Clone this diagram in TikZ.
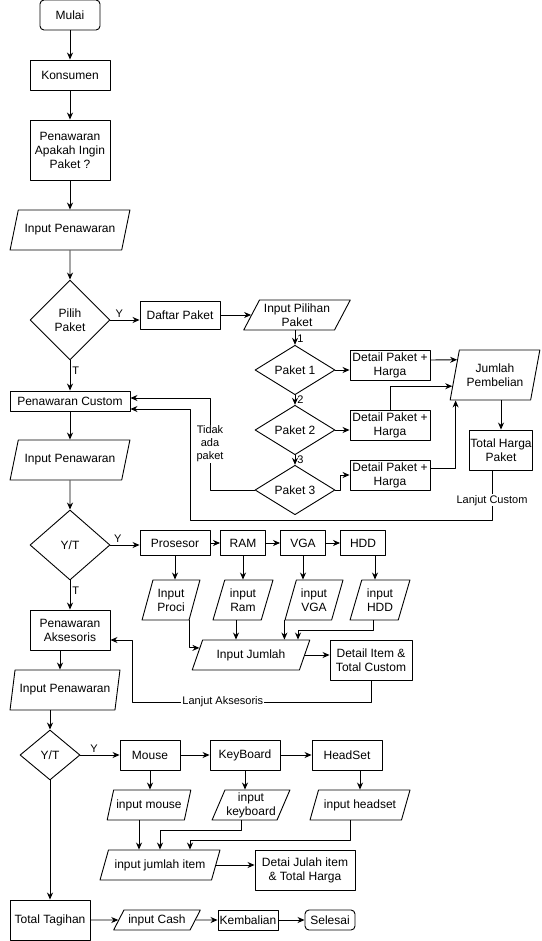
\documentclass[tikz,border=0pt]{standalone}
\usepackage{fontspec}
\setmainfont{Liberation Sans}
\usetikzlibrary{arrows.meta,shapes.geometric,calc}

\begin{document}
\begin{tikzpicture}[
  x=1pt,
  y=-1pt,
  line join=round,
  line width=0.9pt,
  font=\fontsize{12}{14}\selectfont,
  box/.style={draw,rectangle,align=center,inner sep=1pt},
  term/.style={box,rounded corners=4pt},
  io/.style={draw,trapezium,trapezium left angle=#1,trapezium right angle={180-#1},
    trapezium stretches=true,align=center,inner sep=1pt},
  io/.default=60,
  dec/.style={draw,diamond,align=center,inner sep=0pt},
  flow/.style={draw,-{Stealth[length=7pt,width=6pt]}},
  lbl/.style={font=\fontsize{11}{13}\selectfont,fill=white,inner sep=1pt,align=center},
  tag/.style={font=\fontsize{11}{13}\selectfont,inner sep=2pt}
]
  % Frame of the original page.
  \useasboundingbox (0,0) rectangle (541,941);

  % Main column: start, package offer.
  \node[term,minimum width=60pt,minimum height=30pt] (mulai) at (70,15) {Mulai};
  \node[box,minimum width=80pt,minimum height=30pt] (konsumen) at (70,75) {Konsumen};
  \node[box,minimum width=80pt,minimum height=60pt] (tawar) at (70,150) {Penawaran\\Apakah Ingin\\Paket ?};
  \node[io,minimum width=120pt,minimum height=40pt] (inA) at (70,230) {Input Penawaran};
  \node[dec,minimum width=80pt,minimum height=80pt] (pilih) at (70,320) {Pilih\\Paket};

  % Package branch.
  \node[box,minimum width=80pt,minimum height=28pt] (daftar) at (180,315) {Daftar Paket};
  \node[io,minimum width=107pt,minimum height=30pt] (inPilih) at (297,315) {Input Pilihan\\Paket};
  \node[dec,minimum width=80pt,minimum height=40pt] (pk1) at (295,370) {Paket 1};
  \node[dec,minimum width=80pt,minimum height=40pt] (pk2) at (295,430) {Paket 2};
  \node[dec,minimum width=80pt,minimum height=40pt] (pk3) at (295,490) {Paket 3};
  \node[box,minimum width=80pt,minimum height=30pt] (det1) at (390,365) {Detail Paket +\\Harga};
  \node[box,minimum width=80pt,minimum height=30pt] (det2) at (390,425) {Detail Paket +\\Harga};
  \node[box,minimum width=80pt,minimum height=30pt] (det3) at (390,475) {Detail Paket +\\Harga};
  \node[io=73,minimum width=90pt,minimum height=50pt] (jumlah) at (495,375) {Jumlah\\Pembelian};
  \node[box,minimum width=62pt,minimum height=40pt] (totpk) at (501,450) {Total Harga\\Paket};

  % Custom branch.
  \node[box,minimum width=120pt,minimum height=20pt] (custom) at (70,401) {Penawaran Custom};
  \node[io,minimum width=120pt,minimum height=40pt] (inB) at (70,460) {Input Penawaran};
  \node[dec,minimum width=80pt,minimum height=70pt] (yt1) at (70,545) {Y/T};
  \node[box,minimum width=70pt,minimum height=25pt] (pros) at (175,543) {Prosesor};
  \node[box,minimum width=45pt,minimum height=25pt] (ram) at (243,543) {RAM};
  \node[box,minimum width=45pt,minimum height=25pt] (vga) at (303,543) {VGA};
  \node[box,minimum width=45pt,minimum height=25pt] (hdd) at (363,543) {HDD};
  \node[io=70,minimum width=58pt,minimum height=40pt] (inPros) at (171,600) {Input\\Proci};
  \node[io=70,minimum width=60pt,minimum height=40pt] (inRam) at (243,600) {input\\Ram};
  \node[io=70,minimum width=58pt,minimum height=40pt] (inVga) at (314,600) {input\\VGA};
  \node[io=70,minimum width=60pt,minimum height=40pt] (inHdd) at (380,600) {input\\HDD};
  \node[io,minimum width=118pt,minimum height=30pt] (inJml) at (251,655) {Input Jumlah};
  \node[box,minimum width=82pt,minimum height=40pt] (detC) at (371,660) {Detail Item \&\\Total Custom};

  % Accessories branch.
  \node[box,minimum width=80pt,minimum height=40pt] (aks) at (70,630) {Penawaran\\Aksesoris};
  \node[io=70,minimum width=110pt,minimum height=40pt] (inC) at (65,690) {Input Penawaran};
  \node[dec,minimum width=60pt,minimum height=50pt] (yt2) at (50,755) {Y/T};
  \node[box,minimum width=60pt,minimum height=30pt] (mouse) at (150,755) {Mouse};
  \node[box,minimum width=70pt,minimum height=30pt] (keyb) at (245,755) {KeyBoard};
  \node[box,minimum width=70pt,minimum height=30pt] (head) at (347,755) {HeadSet};
  \node[io=65,minimum width=84pt,minimum height=30pt] (inMouse) at (149,805) {input mouse};
  \node[io=65,minimum width=78pt,minimum height=30pt] (inKey) at (251,805) {input\\keyboard};
  \node[io,minimum width=100pt,minimum height=30pt] (inHead) at (360,805) {input headset};
  \node[io,minimum width=120pt,minimum height=30pt] (inItem) at (160,865) {input jumlah item};
  \node[box,minimum width=100pt,minimum height=40pt] (detJ) at (305,870) {Detai Julah item\\\& Total Harga};

  % Payment row.
  \node[box,minimum width=80pt,minimum height=40pt] (tagih) at (50,920) {Total Tagihan};
  \node[io=55,minimum width=87pt,minimum height=20pt] (cash) at (157,920) {input Cash};
  \node[box,minimum width=60pt,minimum height=20pt] (kembali) at (248,920) {Kembalian};
  \node[term,minimum width=50pt,minimum height=20pt] (selesai) at (330,920) {Selesai};

  % Turning points of the long return lines.
  \coordinate (tdTurn) at (210,490);
  \coordinate (lcTurn) at (190,520);
  \coordinate (hddTurn) at (298,630);
  \coordinate (laTurn) at (132,702);
  \coordinate (keyTurn) at (160,830);
  \coordinate (headTurn) at (190,840);

  % Main column arrows.
  \draw[flow] (mulai) -- (konsumen);
  \draw[flow] (konsumen) -- (tawar);
  \draw[flow] (tawar) -- (inA);
  \draw[flow] (inA) -- (pilih);
  \draw[flow] (pilih.east) -- node[tag,above,pos=0.3] {Y} (pilih.east -| daftar.west);
  \draw[flow] (pilih.south) -- node[tag,right,pos=0.35] {T} (custom.north);
  \draw[flow] (custom) -- (inB);
  \draw[flow] (inB) -- (yt1);

  % Package choices.
  \draw[flow] (daftar.east) -- (daftar.east -| inPilih.west);
  \draw[flow] (inPilih.south -| pk1.north) -- node[tag,right,pos=0.55] {1} (pk1.north);
  \draw[flow] (pk1.south) -- node[tag,right,pos=0.5] {2} (pk2.north);
  \draw[flow] (pk2.south) -- node[tag,right,pos=0.5] {3} (pk3.north);
  \draw[flow] (pk1.east) -- (det1.west |- pk1.east);
  \draw[flow] (pk2.east) -- (det2.west |- pk2.east);
  \draw[flow] (pk3.east) -- ++(5,0) |- (det3.west);
  \draw[flow] ([yshift=5pt]det1.east) -- ($(jumlah.top left corner)!0.2!(jumlah.bottom left corner)$);
  \draw[flow] (det2.north) |- ($(jumlah.top left corner)!0.72!(jumlah.bottom left corner)$);
  \draw[flow] ([yshift=7pt]det3.east) -| ([xshift=6pt]jumlah.bottom left corner);
  \draw[flow] (totpk.north |- jumlah.south) -- (totpk.north);
  \draw[flow] ([xshift=-9pt]totpk.south) |- node[lbl,pos=0.3] {Lanjut Custom} (lcTurn)
    |- ([yshift=-8pt]custom.east);
  \draw[flow] (pk3.west) -- (tdTurn) |- node[lbl,pos=0.25] {Tidak\\ada\\paket} ([yshift=3pt]custom.east);

  % Custom parts.
  \draw[flow] (yt1.east) -- node[tag,above,pos=0.25] {Y} (yt1.east -| pros.west);
  \draw[flow] (yt1.south) -- node[tag,right,pos=0.35] {T} (aks.north);
  \draw[flow] (pros) -- (ram);
  \draw[flow] (ram) -- (vga);
  \draw[flow] (vga) -- (hdd);
  \draw[flow] (pros.south) -- (pros.south |- inPros.north);
  \draw[flow] (ram.south) -- (ram.south |- inRam.north);
  \draw[flow] (vga.south) -- (vga.south |- inVga.north);
  \draw[flow] ([xshift=12pt]hdd.south) -- ([xshift=12pt]hdd.south |- inHdd.north);
  \draw[flow] (inPros.bottom right corner) |- ($(inJml.top left corner)!0.27!(inJml.bottom left corner)$);
  \draw[flow] ([xshift=-7pt]inRam.south) -- ([xshift=-7pt]inRam.south |- inJml.north);
  \draw[flow] (inVga.bottom left corner) -- (inVga.bottom left corner |- inJml.north);
  \draw[flow] ([xshift=-7pt]inHdd.south) |- (hddTurn) -- (hddTurn |- inJml.north);
  \draw[flow] (inJml.east) -- (inJml.east -| detC.west);
  \draw[flow] (detC.south) |- node[lbl,pos=0.81] {Lanjut Aksesoris} (laTurn)
    |- ([yshift=-10pt]aks.east);

  % Accessories.
  \draw[flow] ([xshift=-10pt]aks.south) -- ([xshift=-10pt]aks.south |- inC.north);
  \draw[flow] (yt2.north |- inC.south) -- (yt2.north);
  \draw[flow] (yt2.east) -- node[tag,above,pos=0.35] {Y} (mouse.west);
  \draw[flow] (mouse) -- (keyb);
  \draw[flow] (keyb) -- (head);
  \draw[flow] (mouse.south) -- (mouse.south |- inMouse.north);
  \draw[flow] (keyb.south) -- (keyb.south |- inKey.north);
  \draw[flow] (head.south -| inHead.north) -- (inHead.north);
  \draw[flow] ([xshift=-10pt]inMouse.south) -- ([xshift=-10pt]inMouse.south |- inItem.north);
  \draw[flow] ([xshift=-10pt]inKey.south) |- (keyTurn) -- (keyTurn |- inItem.north);
  \draw[flow] ([xshift=-10pt]inHead.south) |- (headTurn) -- (headTurn |- inItem.north);
  \draw[flow] (inItem.east) -- (inItem.east -| detJ.west);

  % Payment.
  \draw[flow] (yt2.south) -- (tagih.north);
  \draw[flow] (tagih.east) -- (cash.west);
  \draw[flow] (cash.east) -- (kembali.west);
  \draw[flow] (kembali.east) -- (selesai.west);
\end{tikzpicture}
\end{document}
